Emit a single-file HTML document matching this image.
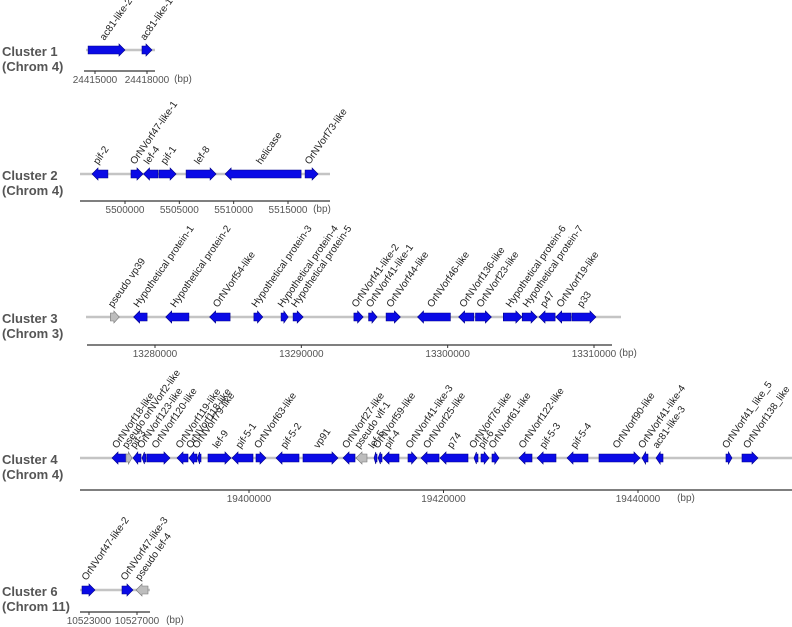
<!DOCTYPE html>
<html><head><meta charset="utf-8">
<style>
html,body{margin:0;padding:0;background:#fff;}
svg{display:block;font-family:"Liberation Sans",Arial,sans-serif;}
.ttl{font-size:13px;font-weight:bold;fill:#555;}
.gl{font-size:10px;fill:#222;}
.tk{font-size:10px;fill:#555;}
</style></head>
<body>
<svg id="chart" width="792" height="627" viewBox="0 0 792 627"></svg>
<script>
// ---- Cluster 1 data ----
const c1Names = ["ac81-like-2","ac81-like-1"];
const c1Starts = [24414600,24417710];
const c1Ends = [24416730,24418290];
const c1Strands = [1,1];
const c1Pseudo = [0,0];
const c1Ticks = [24415000,24418000];
const c1TickLabels = ["24415000","24418000"];
// ---- Cluster 2 data ----
const c2Names = ["pif-2","OrNVorf47-like-1","lef-4","pif-1","lef-8","helicase","OrNVorf73-like"];
const c2Starts = [5496960,5500550,5501700,5503130,5505620,5509210,5516570];
const c2Ends = [5498430,5501660,5503040,5504700,5508380,5516210,5517770];
const c2Strands = [-1,1,-1,1,1,-1,1];
const c2Pseudo = [0,0,0,0,0,0,0];
const c2Ticks = [5500000,5505000,5510000,5515000];
const c2TickLabels = ["5500000","5505000","5510000","5515000"];
// ---- Cluster 3 data ----
const c3Names = ["pseudo vp39","Hypothetical protein-1","Hypothetical protein-2","OrNVorf54-like","Hypothetical protein-3","Hypothetical protein-4","Hypothetical protein-5","OrNVorf41-like-2","OrNVorf41-like-1","OrNVorf44-like","OrNVorf46-like","OrNVorf136-like","OrNVorf23-like","Hypothetical protein-6","Hypothetical protein-7","p47","OrNVorf19-like","p33"];
const c3Starts = [13276950,13278540,13280730,13283730,13286760,13288620,13289440,13293590,13294600,13295790,13297940,13300750,13301900,13303800,13305090,13306240,13307380,13308500];
const c3Ends = [13277560,13279460,13282320,13285130,13287370,13289100,13290130,13294230,13295180,13296770,13300190,13301790,13302990,13305070,13306110,13307340,13308430,13310140];
const c3Strands = [1,-1,-1,-1,1,1,1,1,1,1,-1,-1,1,1,1,-1,-1,1];
const c3Pseudo = [1,0,0,0,0,0,0,0,0,0,0,0,0,0,0,0,0,0];
const c3Ticks = [13280000,13290000,13300000,13310000];
const c3TickLabels = ["13280000","13290000","13300000","13310000"];
// ---- Cluster 4 data ----
const c4Names = ["OrNVorf18-like","pseudo orNVorf2-like","pif-3","OrNVorf123-like","OrNVorf120-like","OrNVorf119-like","OrNVorf118-like","OrNVorf79-like","lef-9","pif-5-1","OrNVorf63-like","pif-5-2","vp91","OrNVorf27-like","pseudo vlf-1","lef-5","OrNVorf59-like","pif-4","OrNVorf41-like-3","OrNVorf25-like","p74","OrNVorf76-like","pif-6","OrNVorf61-like","OrNVorf122-like","pif-5-3","pif-5-4","OrNVorf90-like","OrNVorf41-like-4","ac81-like-3","OrNVorf41_like_5","OrNVorf138_like"];
const c4Starts = [19385910,19387350,19388070,19389000,19389510,19392600,19393830,19394700,19395780,19398250,19400720,19402780,19405550,19409670,19411000,19412850,19413270,19413780,19416350,19417690,19419640,19423140,19423860,19424990,19427760,19429620,19432700,19435990,19440410,19441850,19449050,19450690];
const c4Ends = [19387350,19387970,19388890,19389410,19391880,19393730,19394650,19395060,19398150,19400410,19401750,19405140,19409150,19410900,19412130,19413160,19413680,19415420,19417280,19419540,19422520,19423550,19424680,19425710,19429100,19431570,19434860,19440210,19441030,19442570,19449670,19452340];
const c4Strands = [-1,1,-1,-1,1,-1,-1,-1,1,-1,1,-1,1,-1,-1,-1,-1,-1,1,-1,-1,-1,1,1,-1,-1,-1,1,-1,-1,1,1];
const c4Pseudo = [0,1,0,0,0,0,0,0,0,0,0,0,0,0,1,0,0,0,0,0,0,0,0,0,0,0,0,0,0,0,0,0];
const c4Ticks = [19400000,19420000,19440000];
const c4TickLabels = ["19400000","19420000","19440000"];
// ---- Cluster 6 data ----
const c6Names = ["OrNVorf47-like-2","OrNVorf47-like-3","pseudo lef-4"];
const c6Starts = [10522420,10525750,10526920];
const c6Ends = [10523500,10526670,10527920];
const c6Strands = [1,1,-1];
const c6Pseudo = [0,0,1];
const c6Ticks = [10523000,10527000];
const c6TickLabels = ["10523000","10527000"];

const svg = document.getElementById('chart');
const NS = 'http://www.w3.org/2000/svg';
function mk(tag, attrs, parent){
  const e = document.createElementNS(NS, tag);
  for (const k in attrs) e.setAttribute(k, attrs[k]);
  parent.appendChild(e);
  return e;
}

const layouts = [
  {id:'cluster-1', t1:'Cluster 1', t2:'(Chrom 4)', row:50, axisY:71, lineX:[86,155], axisX:[84,155], a:[95,147], bpLabelX:183,
   names:c1Names, starts:c1Starts, ends:c1Ends, strands:c1Strands, pseudo:c1Pseudo, ticks:c1Ticks, tickLabels:c1TickLabels},
  {id:'cluster-2', t1:'Cluster 2', t2:'(Chrom 4)', row:174, axisY:201, lineX:[80,330], axisX:[80,330], a:[125,288], bpLabelX:322,
   names:c2Names, starts:c2Starts, ends:c2Ends, strands:c2Strands, pseudo:c2Pseudo, ticks:c2Ticks, tickLabels:c2TickLabels},
  {id:'cluster-3', t1:'Cluster 3', t2:'(Chrom 3)', row:317, axisY:345, lineX:[86,621], axisX:[87,612], a:[155,594], bpLabelX:628,
   names:c3Names, starts:c3Starts, ends:c3Ends, strands:c3Strands, pseudo:c3Pseudo, ticks:c3Ticks, tickLabels:c3TickLabels},
  {id:'cluster-4', t1:'Cluster 4', t2:'(Chrom 4)', row:458, axisY:490, lineX:[80,792], axisX:[80,792], a:[249,638], bpLabelX:686,
   names:c4Names, starts:c4Starts, ends:c4Ends, strands:c4Strands, pseudo:c4Pseudo, ticks:c4Ticks, tickLabels:c4TickLabels},
  {id:'cluster-6', t1:'Cluster 6', t2:'(Chrom 11)', row:590, axisY:612, lineX:[80,150], axisX:[80,150], a:[89,137], bpLabelX:175,
   names:c6Names, starts:c6Starts, ends:c6Ends, strands:c6Strands, pseudo:c6Pseudo, ticks:c6Ticks, tickLabels:c6TickLabels}
];

layouts.forEach(function(L){
  const g = mk('g', {}, svg);
  
  
  const t0 = L.ticks[0], tN = L.ticks[L.ticks.length-1];
  const x = function(bp){ return L.a[0] + (bp - t0) * (L.a[1] - L.a[0]) / (tN - t0); };

  const tt = mk('text', {x:2, y:L.row+6, class:'ttl'}, g); tt.textContent = L.t1;
  
  
  const tc = mk('text', {x:2, y:L.row+21, class:'ttl'}, g); tc.textContent = L.t2;
  
  

  const ln = mk('line', {x1:L.lineX[0], x2:L.lineX[1], y1:L.row, y2:L.row, stroke:'#c4c4c4', 'stroke-width':2.4}, g);
  
  

  const ax = mk('line', {x1:L.axisX[0], x2:L.axisX[1], y1:L.axisY, y2:L.axisY, stroke:'#333', 'stroke-width':1.2}, g);
  
  
  L.ticks.forEach(function(t, i){
    const px = x(t);
    const tk = mk('line', {x1:px, x2:px, y1:L.axisY, y2:L.axisY+3, stroke:'#333', 'stroke-width':1}, g);
    
    
    const tl = mk('text', {x:px, y:L.axisY+12, class:'tk', 'text-anchor':'middle'}, g);
    tl.textContent = L.tickLabels[i];
    
    
  });
  const bpl = mk('text', {x:L.bpLabelX, y:L.axisY+11, class:'tk', 'text-anchor':'middle', fill:'#222'}, g);
  bpl.textContent = '(bp)';
  
  

  L.names.forEach(function(nm, i){
    const xs = x(L.starts[i]), xe = x(L.ends[i]);
    const w = xe - xs;
    const hl = Math.min(6, w * 0.6);
    const bh = 4, hh = 6, y = L.row;
    let pts;
    if (L.strands[i] > 0) {
      const b = xe - hl;
      pts = [[xs,y-bh],[b,y-bh],[b,y-hh],[xe,y],[b,y+hh],[b,y+bh],[xs,y+bh]];
    } else {
      const b = xs + hl;
      pts = [[xe,y-bh],[b,y-bh],[b,y-hh],[xs,y],[b,y+hh],[b,y+bh],[xe,y+bh]];
    }
    const fill = L.pseudo[i] ? '#bdbdbd' : '#0a0ae6';
    const stroke = L.pseudo[i] ? '#777' : '#00008a';
    const p = mk('polygon', {points: pts.map(function(q){return q[0].toFixed(1)+','+q[1];}).join(' '), fill:fill, stroke:stroke, 'stroke-width':0.6}, g);
    
    
    const cx = (xs + xe) / 2 - 2;
    const ly = y - 9;
    const lab = mk('text', {x:cx, y:ly, class:'gl', transform:'rotate(-55 '+cx.toFixed(1)+' '+ly+')'}, g);
    lab.textContent = nm;
    
    
  });
});
</script>
</body></html>
